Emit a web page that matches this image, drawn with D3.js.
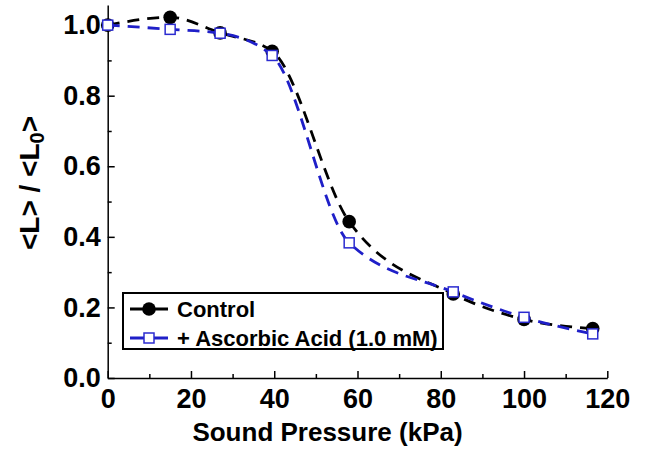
<!DOCTYPE html>
<html>
<head>
<meta charset="utf-8">
<script src="https://cdn.jsdelivr.net/npm/d3@7"></script>
<style>
  html, body { margin: 0; padding: 0; background: #fff; }
  svg { display: block; font-family: "Liberation Sans", Arial, sans-serif; font-weight: bold; }
</style>
</head>
<body>
<svg id="chart" width="647" height="455"></svg>
<script>
// Normalised mean length <L>/<L0> versus sound pressure
const pressure = [0, 15, 27, 39.5, 58, 83, 100, 116.5];
const control = [1.0, 1.022, 0.978, 0.926, 0.443, 0.238, 0.166, 0.14];
const ascorbic = [1.0, 0.988, 0.977, 0.914, 0.383, 0.244, 0.172, 0.125];
const seriesNames = ["Control", "+ Ascorbic Acid (1.0 mM)"];
const xTicks = [0, 20, 40, 60, 80, 100, 120];
const xMinorTicks = [10, 30, 50, 70, 90, 110];
const yTicks = [0.0, 0.2, 0.4, 0.6, 0.8, 1.0];
const yMinorTicks = [0.1, 0.3, 0.5, 0.7, 0.9];

const svg = d3.select("#chart");
const x = d3.scaleLinear().domain([0, 120]).range([107.7, 607.3]);
const y = d3.scaleLinear().domain([0, 1.057]).range([378, 5]);

const black = "#000";
const blue = "#1f1fc8";
const squareBlue = "#2b2bd0";

// Axes: ticks point inward
const xAxis = svg.append("g").attr("transform", `translate(0,${y(0)})`)
  .call(d3.axisBottom(x).tickValues(xTicks).tickSizeInner(-7).tickSizeOuter(0)
    .tickPadding(11).tickFormat(d3.format("d")));
svg.append("g").attr("transform", `translate(0,${y(0)})`)
  .call(d3.axisBottom(x).tickValues(xMinorTicks).tickSizeInner(-4).tickSizeOuter(0).tickFormat(""))
  .select(".domain").remove();

const yAxis = svg.append("g").attr("transform", `translate(${x(0)},0)`)
  .call(d3.axisLeft(y).tickValues(yTicks).tickSizeInner(-7).tickSizeOuter(0)
    .tickPadding(7).tickFormat(d3.format(".1f")));
svg.append("g").attr("transform", `translate(${x(0)},0)`)
  .call(d3.axisLeft(y).tickValues(yMinorTicks).tickSizeInner(-4).tickSizeOuter(0).tickFormat(""))
  .select(".domain").remove();

svg.selectAll(".domain, .tick line").attr("stroke", black).attr("stroke-width", 1.5);
svg.selectAll(".tick text").attr("font-size", 27).attr("font-weight", "bold")
  .attr("font-family", "'Liberation Sans', Arial, sans-serif").attr("fill", black);

// Axis titles
svg.append("text")
  .attr("x", (x(0) + x(120)) / 2 - 30).attr("y", 441)
  .attr("text-anchor", "middle").attr("font-size", 26).attr("fill", black)
  .text("Sound Pressure (kPa)");

const yTitle = svg.append("text")
  .attr("transform", "translate(39,183) rotate(-90)")
  .attr("text-anchor", "middle").attr("font-size", 28).attr("fill", black);
yTitle.append("tspan").text("<L> / <L");
yTitle.append("tspan").attr("font-size", 20).attr("dy", 5).text("0");
yTitle.append("tspan").attr("dy", -5).text(">");

// Smooth dashed connecting curves
const line = d3.line().x((d, i) => x(pressure[i])).y(d => y(d)).curve(d3.curveMonotoneX);
const dash = "12,8";

svg.append("path").datum(control)
  .attr("d", line).attr("fill", "none").attr("stroke", black)
  .attr("stroke-width", 2.8).attr("stroke-dasharray", dash);
svg.append("g").selectAll("circle").data(control).join("circle")
  .attr("cx", (d, i) => x(pressure[i])).attr("cy", d => y(d)).attr("r", 6.8)
  .attr("fill", black);

svg.append("path").datum(ascorbic)
  .attr("d", line).attr("fill", "none").attr("stroke", blue)
  .attr("stroke-width", 2.8).attr("stroke-dasharray", dash);
svg.append("g").selectAll("rect").data(ascorbic).join("rect")
  .attr("x", (d, i) => x(pressure[i]) - 5).attr("y", d => y(d) - 5)
  .attr("width", 10).attr("height", 10)
  .attr("fill", "#fff").attr("stroke", squareBlue).attr("stroke-width", 1.5);

// Legend
const legend = svg.append("g");
legend.append("rect").attr("x", 123).attr("y", 293).attr("width", 320).attr("height", 56)
  .attr("fill", "#fff").attr("stroke", black).attr("stroke-width", 2);
const rows = [309, 338];
legend.append("line").attr("x1", 130).attr("x2", 168).attr("y1", rows[0]).attr("y2", rows[0])
  .attr("stroke", black).attr("stroke-width", 2.8);
legend.append("circle").attr("cx", 149).attr("cy", rows[0]).attr("r", 6.8).attr("fill", black);
legend.append("line").attr("x1", 130).attr("x2", 168).attr("y1", rows[1]).attr("y2", rows[1])
  .attr("stroke", blue).attr("stroke-width", 2.8);
legend.append("rect").attr("x", 144).attr("y", rows[1] - 5).attr("width", 10).attr("height", 10)
  .attr("fill", "#fff").attr("stroke", squareBlue).attr("stroke-width", 1.5);
legend.selectAll("text.lbl").data(seriesNames).join("text").attr("class", "lbl")
  .attr("x", 177).attr("y", (d, i) => rows[i] + 8)
  .attr("font-size", 22).attr("fill", black).text(d => d);
</script>
</body>
</html>
